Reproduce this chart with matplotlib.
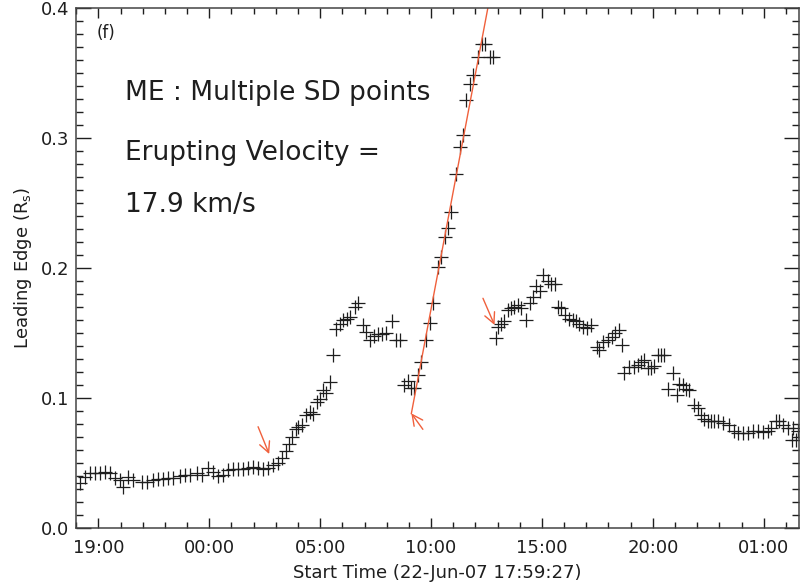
import matplotlib
matplotlib.use("Agg")
import matplotlib.pyplot as plt
from matplotlib.ticker import FixedLocator, MultipleLocator

plt.rcParams['font.family'] = ['DejaVu Sans']

# start of the time axis: 22-Jun-07 17:59:27 (hours of day)
start_hour = 17 + 59 / 60 + 27 / 3600

# hours since start, leading edge height (Rs)
pre_t = [0.18, 0.41, 0.63, 0.86, 1.08, 1.31, 1.53, 1.76, 1.98, 2.13, 2.36, 2.58,
         2.96, 3.18, 3.48, 3.71, 3.93, 4.16, 4.38, 4.68, 4.91, 5.14, 5.44, 5.66,
         5.96, 6.19, 6.41, 6.64, 6.86, 7.09, 7.31, 7.54, 7.76, 7.99, 8.21, 8.44,
         8.66, 8.89, 9.11]
pre_v = [0.0344, 0.0395, 0.042, 0.0426, 0.0426, 0.0433, 0.042, 0.0382, 0.0369,
         0.0318, 0.039, 0.0369, 0.0356, 0.0356, 0.0369, 0.0374, 0.0374, 0.0382,
         0.0382, 0.040, 0.0408, 0.0408, 0.042, 0.0408, 0.0459, 0.0433, 0.0403,
         0.0408, 0.0446, 0.0451, 0.0451, 0.0451, 0.0459, 0.0472, 0.0459, 0.0451,
         0.0459, 0.0485, 0.0497]

rise_t = [9.31, 9.46, 9.61, 9.76, 9.91, 10.02, 10.17, 10.36, 10.54, 10.69, 10.87,
          11.02, 11.14, 11.29, 11.44, 11.59, 11.74, 11.89, 12.04, 12.20, 12.35,
          12.57, 12.72, 12.94, 13.09, 13.24, 13.42, 13.62, 13.81, 13.99, 14.26,
          14.44, 14.59]
rise_v = [0.054, 0.059, 0.065, 0.070, 0.076, 0.078, 0.079, 0.087, 0.089, 0.088,
          0.097, 0.099, 0.106, 0.104, 0.112, 0.133, 0.153, 0.157, 0.160, 0.161,
          0.162, 0.170, 0.173, 0.156, 0.151, 0.145, 0.148, 0.149, 0.149, 0.150,
          0.159, 0.145, 0.145]

erupt_t = [14.80, 14.95, 15.10, 15.25, 15.42, 15.57, 15.80, 15.95, 16.10, 16.32,
           16.47, 16.62, 16.77, 16.92, 17.12, 17.30, 17.45, 17.60, 17.75, 17.90,
           18.12, 18.32, 18.42, 18.65, 18.80]
erupt_v = [0.110, 0.113, 0.108, 0.108, 0.1177, 0.128, 0.1446, 0.1574, 0.1728,
           0.201, 0.2087, 0.224, 0.2305, 0.2433, 0.2723, 0.2933, 0.3023, 0.3292,
           0.3415, 0.3485, 0.3626, 0.3723, 0.3723, 0.3626, 0.3626]

post_t = [18.92, 19.02, 19.17, 19.32, 19.47, 19.63, 19.77, 19.92, 20.08, 20.30,
          20.45, 20.60, 20.75, 20.90, 21.05, 21.28, 21.43, 21.58, 21.73, 21.88,
          22.07, 22.22, 22.40, 22.55, 22.70, 22.88, 23.03, 23.23, 23.48, 23.60,
          23.78, 23.98, 24.16, 24.32, 24.47, 24.62, 24.73, 24.95, 25.18, 25.33,
          25.48, 25.63, 25.78, 25.93, 26.08, 26.23, 26.38, 26.53, 26.68, 26.90,
          27.10, 27.21, 27.36, 27.51, 27.66, 27.88, 28.03, 28.18, 28.33, 28.48,
          28.63, 28.78, 28.93, 29.16, 29.46, 29.68, 29.83, 30.06, 30.28, 30.51,
          30.73, 30.96, 31.19, 31.34, 31.56, 31.71, 31.89, 32.09, 32.28, 32.31,
          32.46, 32.54]
post_v = [0.146, 0.155, 0.157, 0.159, 0.168, 0.169, 0.170, 0.1715, 0.169, 0.160,
          0.173, 0.178, 0.186, 0.182, 0.195, 0.190, 0.188, 0.188, 0.170, 0.169,
          0.164, 0.161, 0.160, 0.159, 0.157, 0.155, 0.154, 0.156, 0.1395, 0.137,
          0.143, 0.145, 0.147, 0.150, 0.152, 0.141, 0.119, 0.124, 0.124, 0.1254,
          0.128, 0.129, 0.123, 0.123, 0.125, 0.133, 0.133, 0.133, 0.107, 0.119,
          0.102, 0.111, 0.110, 0.107, 0.106, 0.095, 0.092, 0.087, 0.084, 0.082,
          0.082, 0.082, 0.082, 0.0805, 0.079, 0.075, 0.073, 0.073, 0.073, 0.075,
          0.075, 0.074, 0.075, 0.077, 0.082, 0.082, 0.079, 0.077, 0.068, 0.077,
          0.068, 0.075]

# linear fit of the eruption phase (17.9 km/s)
fit_t = [15.12, 18.57]
fit_v = [0.088, 0.400]

# arrows: (tail_t, tail_v, head_t, head_v)
arrow_tail_t = [8.21, 15.64, 18.35]
arrow_tail_v = [0.0779, 0.0759, 0.1767]
arrow_head_t = [8.71, 15.12, 18.87]
arrow_head_v = [0.0569, 0.0882, 0.1562]

major_hours = [19, 24, 29, 34, 39, 44, 49]
tick_labels = ['19:00', '00:00', '05:00', '10:00', '15:00', '20:00', '01:00']

red = '#f0603c'
ink = '#1e1e1e'

fig = plt.figure(figsize=(8.0, 5.84), dpi=100)
ax = fig.add_axes([76 / 800, 1 - 528 / 584, 723 / 800, 520 / 584])

all_t = pre_t + rise_t + erupt_t + post_t
all_v = pre_v + rise_v + erupt_v + post_v
ax.plot(all_t, all_v, linestyle='none', marker='+', markersize=10,
        markeredgewidth=0.9, color=ink)

ax.plot(fit_t, fit_v, color=red, lw=1.0)

for tt, tv, ht, hv in zip(arrow_tail_t, arrow_tail_v, arrow_head_t, arrow_head_v):
    ax.annotate('', xy=(ht, hv), xytext=(tt, tv),
                arrowprops=dict(arrowstyle='->', color=red, lw=1.0,
                                mutation_scale=19, shrinkA=0, shrinkB=0))

ax.set_xlim(0, 32.6)
ax.set_ylim(0, 0.4)

ax.xaxis.set_major_locator(FixedLocator([h - start_hour for h in major_hours]))
ax.set_xticklabels(tick_labels)
ax.xaxis.set_minor_locator(FixedLocator([h - start_hour for h in range(18, 51)]))
ax.yaxis.set_major_locator(MultipleLocator(0.1))
ax.yaxis.set_minor_locator(MultipleLocator(0.01))
ax.set_yticks([0.0, 0.1, 0.2, 0.3, 0.4])
ax.set_yticklabels(['0.0', '0.1', '0.2', '0.3', '0.4'])

ax.tick_params(axis='both', which='both', direction='in', top=True, right=True,
               colors=ink, labelsize=13, width=1.0)
ax.tick_params(axis='x', which='major', length=7.5, pad=8)
ax.tick_params(axis='x', which='minor', length=4)
ax.tick_params(axis='y', which='major', length=10.5, pad=5)
ax.tick_params(axis='y', which='minor', length=5)
for s in ax.spines.values():
    s.set_color('#444444')
    s.set_linewidth(1.1)

ax.set_xlabel('Start Time (22-Jun-07 17:59:27)', fontsize=13, color=ink, labelpad=5)
ax.set_ylabel('Leading Edge (R$_{\\rm s}$)', fontsize=13, color=ink, labelpad=5)

fig.text(97 / 800, 1 - 38 / 584, '(f)', fontsize=12, color=ink)
fig.text(125 / 800, 1 - 100 / 584, 'ME : Multiple SD points', fontsize=19, color=ink)
fig.text(125 / 800, 1 - 160 / 584, 'Erupting Velocity =', fontsize=19, color=ink)
fig.text(125 / 800, 1 - 212 / 584, '17.9 km/s', fontsize=19, color=ink)

fig.savefig('out.png', dpi=100)
